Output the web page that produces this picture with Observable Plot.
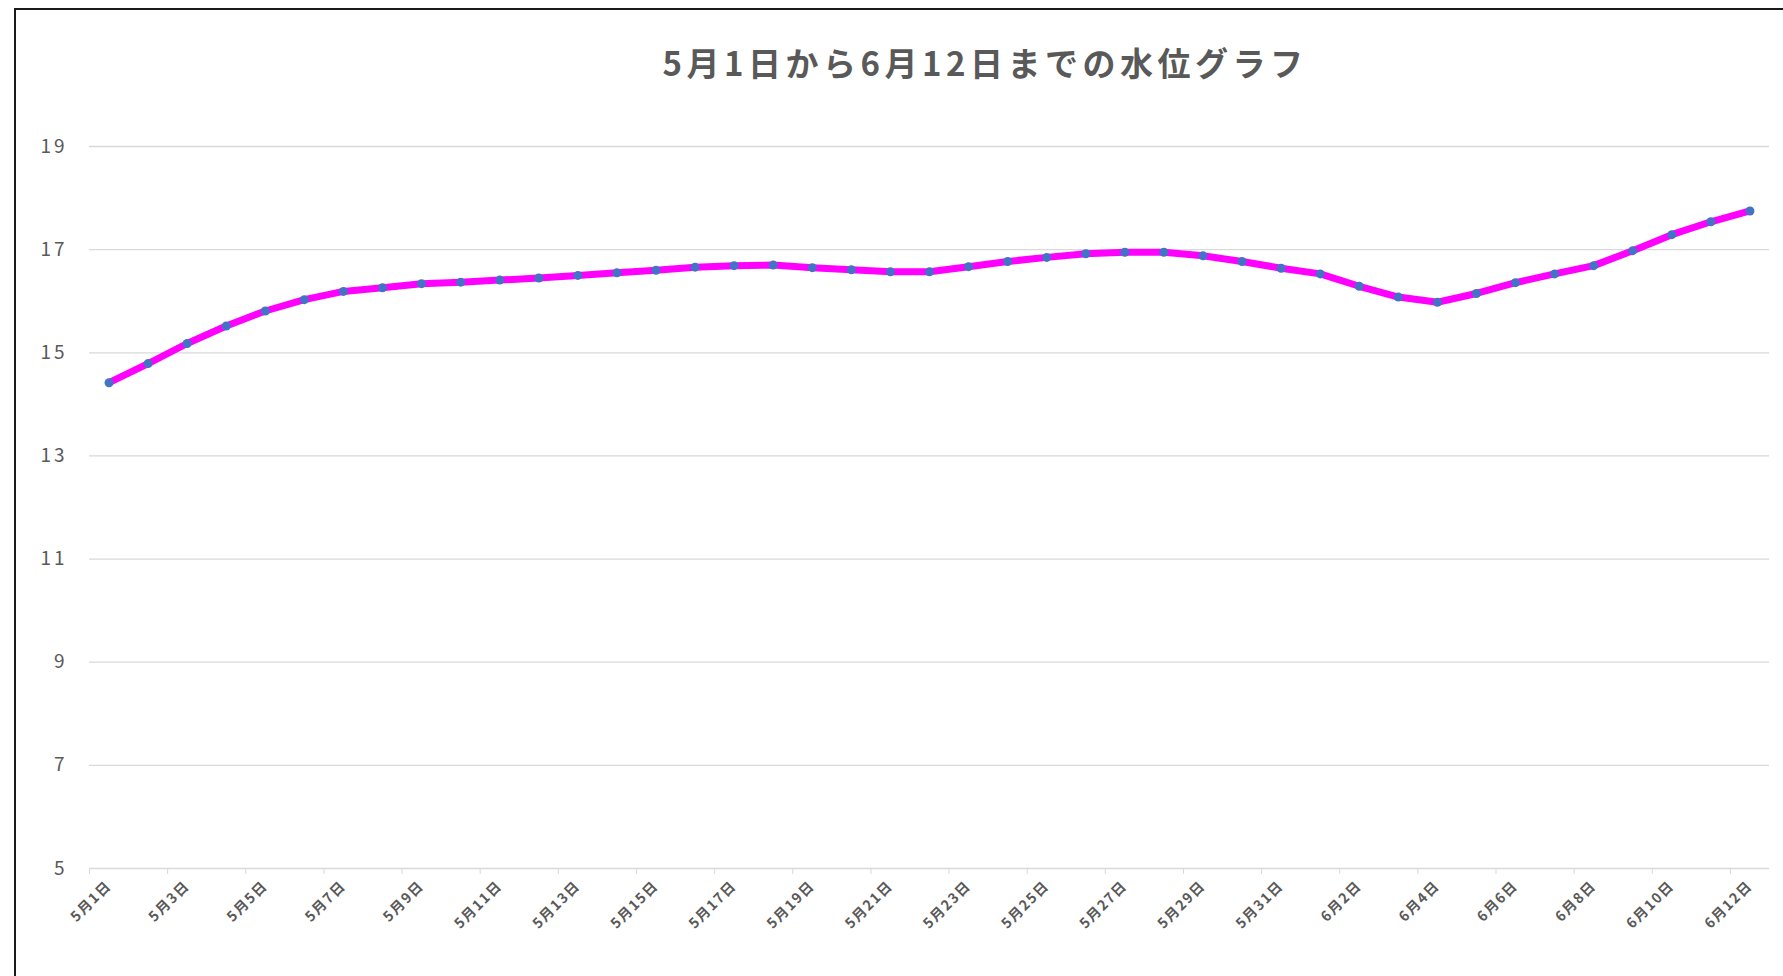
<!DOCTYPE html>
<html><head><meta charset="utf-8">
<script src="https://cdn.jsdelivr.net/npm/d3@7"></script>
<script src="https://cdn.jsdelivr.net/npm/@observablehq/plot@0.6"></script>
<style>
html,body{margin:0;padding:0;background:#fff;overflow:hidden;width:1783px;height:976px;}
#frame{position:absolute;left:14px;top:8px;width:2000px;height:1100px;border:2px solid #1a1a1a;box-sizing:border-box;}
#title{position:absolute;left:0;width:1970px;top:40px;text-align:center;font-family:"Noto Sans CJK JP";font-weight:bold;font-size:33px;letter-spacing:4.5px;color:#595959;line-height:44px;}
#chart{position:absolute;left:0;top:0;}
.xl text{letter-spacing:1.5px;}
.yl text{letter-spacing:3px;}
</style></head>
<body>
<div id="frame"></div>
<div id="title">5月1日から6月12日までの水位グラフ</div>
<div id="chart"></div>
<script>
const dates = ["5月1日","5月2日","5月3日","5月4日","5月5日","5月6日","5月7日","5月8日","5月9日","5月10日",
"5月11日","5月12日","5月13日","5月14日","5月15日","5月16日","5月17日","5月18日","5月19日","5月20日",
"5月21日","5月22日","5月23日","5月24日","5月25日","5月26日","5月27日","5月28日","5月29日","5月30日","5月31日",
"6月1日","6月2日","6月3日","6月4日","6月5日","6月6日","6月7日","6月8日","6月9日","6月10日","6月11日","6月12日"];
const levels = [14.42,14.79,15.18,15.52,15.81,16.03,16.19,16.26,16.34,16.37,
16.41,16.45,16.50,16.55,16.60,16.66,16.69,16.70,16.65,16.61,
16.57,16.57,16.67,16.77,16.85,16.92,16.95,16.95,16.88,16.77,16.64,
16.53,16.29,16.08,15.98,16.15,16.36,16.53,16.69,16.98,17.29,17.54,17.75];
const yTicks = [5,7,9,11,13,15,17,19];

const data = dates.map((d,i)=>({i, pos:i+0.5, date:d, level:levels[i]}));
const boundaryTicks = d3.range(0, dates.length, 2);
const labelTicks = boundaryTicks.map(b => b + 0.5);

const chart = Plot.plot({
  width: 1783, height: 976,
  marginLeft: 89, marginRight: 14, marginTop: 146, marginBottom: 108,
  style:{fontFamily:"Noto Sans CJK JP", color:"#595959", background:"transparent"},
  x:{type:"linear", domain:[0, dates.length]},
  y:{domain:[5,19]},
  marks:[
    Plot.gridY(yTicks.filter(t=>t>5), {stroke:"#d9d9d9", strokeOpacity:1, strokeWidth:1.3}),
    Plot.ruleY([5], {stroke:"#d9d9d9", strokeWidth:1.5}),
    Plot.axisY(yTicks, {className:"yl", tickSize:0, tickPadding:22, fontSize:19, fill:"#595959", tickFormat:d=>String(d), label:null}),
    Plot.axisX(boundaryTicks, {tickSize:6, stroke:"#d9d9d9", tickFormat:()=>"", label:null}),
    Plot.axisX(labelTicks, {className:"xl", tickSize:0, tickPadding:15, tickRotate:-45, textAnchor:"end", fontSize:14, fontWeight:"bold", fill:"#595959", tickFormat:d=>dates[Math.floor(d)], label:null}),
    Plot.line(data, {x:"pos", y:"level", stroke:"#ff00ff", strokeWidth:7, curve:"linear"}),
    Plot.dot(data, {x:"pos", y:"level", r:4.5, fill:"#4472c4", stroke:"none"})
  ]
});
document.getElementById("chart").append(chart);
</script>
</body></html>
